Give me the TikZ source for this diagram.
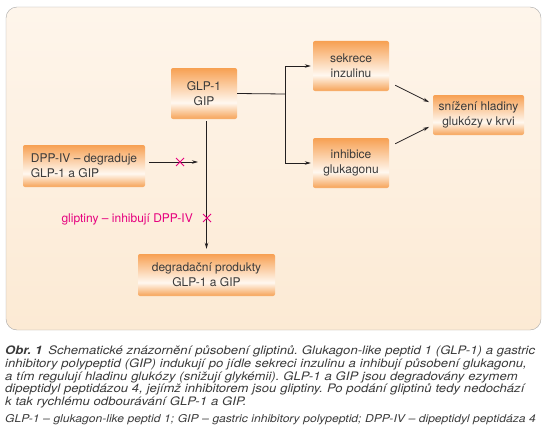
\documentclass[tikz,border=0pt]{standalone}
\usepackage{fontspec}
\setmainfont{TeX Gyre Heros}
\newfontfamily\capfont[FakeStretch=1.12]{TeX Gyre Heros}
\frenchspacing
\usepackage{tikz}
\usetikzlibrary{shapes.misc, arrows.meta}
\definecolor{panelTop}{HTML}{FEF5EB}
\definecolor{panelBot}{HTML}{FCEAD4}
\definecolor{panelLine}{HTML}{A8A8A8}
\definecolor{boxTop}{HTML}{F7A052}
\definecolor{boxBot}{HTML}{F7AD69}
\definecolor{boxMid}{HTML}{FFF8F0}
\definecolor{textGray}{HTML}{3A3A3A}
\definecolor{lineBlack}{HTML}{231F20}
\definecolor{pinkX}{HTML}{E6007E}
\pgfdeclareverticalshading{boxshade}{100bp}{color(0bp)=(boxBot); color(27bp)=(boxBot);
	color(41bp)=(boxMid); color(75bp)=(boxTop); color(100bp)=(boxTop)}
\tikzstyle{orangeBox} = [shape=rectangle, rounded corners=2pt, shading=boxshade,
	text=textGray, align=center, inner sep=0pt, font=\fontsize{12}{15}\selectfont]
\tikzstyle{SquareBox} = [orangeBox, minimum width=76pt, minimum height=50pt]
\tikzstyle{FlatBox} = [orangeBox, minimum height=42pt]
\tikzstyle{normalLine} = [line width=0.8pt, draw=lineBlack]
\tikzstyle{normalArrow} = [normalLine, -{Stealth[length=6pt, width=3.5pt]}, shorten >=2pt]
\tikzstyle{thickArrow} = [normalArrow, line width=1.5pt]
\tikzstyle{crossMark} = [cross out, draw=pinkX, line width=1pt, minimum size=7pt, inner sep=0pt]
\tikzstyle{capText} = [anchor=north west, align=left, inner sep=0pt, text=textGray,
	text width=570pt, font=\capfont\itshape\fontsize{11.7}{12.6}\selectfont]
\tikzstyle{abbrText} = [capText, font=\capfont\itshape\fontsize{10.8}{12}\selectfont]

\begin{document}
\begin{tikzpicture}[x=1pt, y=-1pt]
  \useasboundingbox (0,0) rectangle (551,444);
  \path [draw=panelLine, top color=panelTop, bottom color=panelBot, rounded corners=11pt] (6,7) rectangle (541,330);

  \node (GLP) [orangeBox, minimum width=66pt, minimum height=51pt] at (204,93.5) {GLP-1\\GIP};
  \node (SEKR) [SquareBox] at (351,66) {sekrece\\inzulinu};
  \node (INHIB) [SquareBox] at (351,163) {inhibice\\glukagonu};
  \node (SNIZ) [orangeBox, minimum width=91pt, minimum height=40pt] at (478.5,115) {snížení hladiny\\glukózy v krvi};
  \node (DPP) [FlatBox, minimum width=122pt, align=left] at (84,166) {DPP-IV – degraduje\\GLP-1 a GIP};
  \node (DEGR) [FlatBox, minimum width=137pt] at (206.5,275) {degradační produkty\\GLP-1 a GIP};
  \node (GLIPT) [anchor=east, inner sep=0pt, text=pinkX, font=\fontsize{12}{15}\selectfont] at (193,219) {gliptiny – inhibují DPP-IV};

  \coordinate (BR) at (285,94);
  \coordinate (DPPEND) at (200,162);

  \draw [normalLine] (GLP.east) -- (BR);
  \draw [normalArrow] (BR) |- (SEKR.west);
  \draw [normalArrow] (BR) |- (INHIB.west);
  \draw [thickArrow, shorten <=2pt, shorten >=5pt] (GLP.south -| DEGR.north) -- (DEGR.north);
  \draw [normalArrow] ([shift={(4,-4)}]DPP.east) -- (DPPEND);
  \draw [normalArrow] ([shift={(6,-6)}]SEKR.south east) -- ([shift={(-2,-12)}]SNIZ.west);
  \draw [normalArrow] ([shift={(6,6)}]INHIB.north east) -- ([shift={(-2,11)}]SNIZ.west);

  \node (X1) [crossMark] at (180,162) {};
  \node (X2) [crossMark] at (207,218) {};

  \node (CAP) [capText] at (5,346) {\textbf{Obr. 1}\enskip Schematické znázornění působení gliptinů. Glukagon-like peptid 1 (GLP-1) a gastric\\
    inhibitory polypeptid (GIP) indukují po jídle sekreci inzulinu a inhibují působení glukagonu,\\
    a tím regulují hladinu glukózy (snižují glykémii). GLP-1 a GIP jsou degradovány ezymem\\
    dipeptidyl peptidázou 4, jejímž inhibitorem jsou gliptiny. Po podání gliptinů tedy nedochází\\
    k tak rychlému odbourávání GLP-1 a GIP.};
  \node (ABBR) [abbrText] at (5,414) {GLP-1 – glukagon-like peptid 1; GIP – gastric inhibitory polypeptid; DPP-IV – dipeptidyl peptidáza 4};
\end{tikzpicture}
\end{document}
